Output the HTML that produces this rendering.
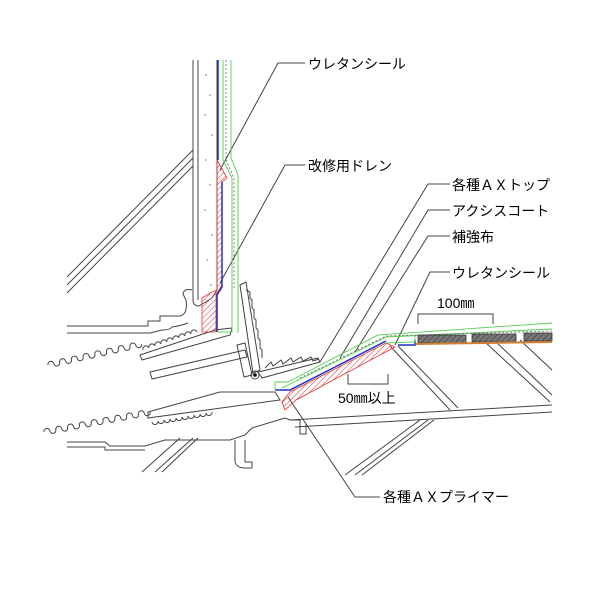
<!DOCTYPE html>
<html><head><meta charset="utf-8"><style>
html,body{margin:0;padding:0;background:#fff}
svg{display:block}
text{font-family:"Liberation Sans","Noto Sans CJK JP",sans-serif;font-size:14px;fill:#000}
</style></head><body>
<svg width="600" height="600" viewBox="0 0 600 600" xmlns="http://www.w3.org/2000/svg">
<defs>
<pattern id="h" width="4" height="4" patternUnits="userSpaceOnUse" patternTransform="rotate(45)">
<line x1="0" y1="0" x2="0" y2="4" stroke="#e03030" stroke-width="1"/></pattern>
<pattern id="g" width="4" height="4" patternUnits="userSpaceOnUse" patternTransform="rotate(45)">
<rect width="4" height="4" fill="#777"/><line x1="0" y1="0" x2="0" y2="4" stroke="#333" stroke-width="1"/></pattern>
</defs>
<g fill="none" stroke="#444" stroke-width="1">
<path d="M193,60 V300 Q193,306 199,306 L212,298"/>
<path d="M198,60 V300"/>
<path d="M217,60 V290 L212,298"/>
<path d="M193,150 L67,277 M193,158 L67,285 M193,166 L67,293"/>
<path d="M67,326 H148 V321 H160 V316 H180 Q188,314 186,300 L183,294 Q184,288 192,290"/>
<path d="M67,333 H150 L162,330 Q170,330 172,327 Q180,326 188,323"/>
<path d="M140,355 L215,330 L232,328 L230,335 L142,360 Z"/>
<path d="M143,350 a3,3 0 0 1 6,-2 a3,3 0 0 1 6,-2 a3,3 0 0 1 6,-2 a3,3 0 0 1 6,-2 a3,3 0 0 1 6,-2 a3,3 0 0 1 6,-2 a3,3 0 0 1 6,-2 a3,3 0 0 1 6,-2 a3,3 0 0 1 6,-2"/>
<path d="M150,372 L245,350 L247,357 L152,379 Z"/>
<path d="M237,345 L245,343 L252,375 L244,377 Z"/>
<path d="M240,285 L246,282 L260,370 L253,373 Z"/>
<path d="M246,290 l4,2 l0,6 l2,2 l0,8 l2,2 l0,8 l2,2 l0,8 l2,2 l0,8 l2,2 l0,8 l2,2 l0,8"/>
<path d="M258,372 L318,358 L320,362 L262,378 Z"/>
<path d="M265,368 l6,-6 l2,4 l8,-6 l2,4 l8,-6 l2,4 l8,-5 l2,4 l8,-4 l2,4 l6,-2"/>
<circle cx="255" cy="375" r="4"/><circle cx="255" cy="375" r="1.5" fill="#000"/>
<g transform="translate(48,365) rotate(-12.6)">
<path d="M0,0 a3,3 0 0 1 6,0 a3,3 0 0 0 6,0 a3,3 0 0 1 6,0 a3,3 0 0 0 6,0 a3,3 0 0 1 6,0 a3,3 0 0 0 6,0 a3,3 0 0 1 6,0 a3,3 0 0 0 6,0 a3,3 0 0 1 6,0 a3,3 0 0 0 6,0 a3,3 0 0 1 6,0 a3,3 0 0 0 6,0 a3,3 0 0 1 6,0 a3,3 0 0 0 6,0 a3,3 0 0 1 6,0 a3,3 0 0 0 6,0"/>
</g>
<g transform="translate(44,432) rotate(-10.6)">
<path d="M0,0 a3,3 0 0 1 6,0 a3,3 0 0 0 6,0 a3,3 0 0 1 6,0 a3,3 0 0 0 6,0 a3,3 0 0 1 6,0 a3,3 0 0 0 6,0 a3,3 0 0 1 6,0 a3,3 0 0 0 6,0 a3,3 0 0 1 6,0 a3,3 0 0 0 6,0 a3,3 0 0 1 6,0 a3,3 0 0 0 6,0 a3,3 0 0 1 6,0 a3,3 0 0 0 6,0 a3,3 0 0 1 6,0 a3,3 0 0 0 6,0 a3,3 0 0 1 6,0 a3,3 0 0 0 6,0"/>
</g>
<path d="M148,412 L220,392 L275,392 L280,400 L148,418 Z"/>
<path d="M152,422 a3,3 0 0 0 6,-1 a3,3 0 0 0 6,-1 a3,3 0 0 0 6,-1 a3,3 0 0 0 6,-1 a3,3 0 0 0 6,-1 a3,3 0 0 0 6,-1 a3,3 0 0 0 6,-1 a3,3 0 0 0 6,-1 a3,3 0 0 0 6,-1 a3,3 0 0 0 6,-1"/>
<path d="M67,442 H105 L110,446 H145 L165,440 H230 L245,435 L252,428 L285,418"/>
<path d="M67,447 H105 V450 H145"/>
<path d="M235,440 V462 Q237,468 245,468 H252 V462 H245 V440"/>
<path d="M285,418 L290,420 H300 V434 H306 V424"/>
<path d="M290,420 L552,405 M295,427 L552,412"/>
<path d="M142,472 L180,438 M155,472 L193,438 M162,472 L198,438"/>
<path d="M345,475 L420,420 M355,475 L428,420 M362,475 L434,420"/>
<path d="M390,346 L450,410 M398,346 L458,408 M485,342 L550,402 M495,341 L552,395 M520,340 L552,370"/>
<path d="M305,63 H278 L220,170"/>
<path d="M305,165 H285 L220,283"/>
<path d="M450,184 H428 L320,362"/>
<path d="M450,210 H428 L340,358"/>
<path d="M450,236 H428 L355,352"/>
<path d="M450,272 H430 L395,345"/>
<path d="M380,497 H355 L288,397"/>
<path d="M418,324 V314 H493 V324"/>
<path d="M348,374 V384 H388 V374"/>
</g>
<g fill="#333">
<circle cx="206" cy="75" r=".6"/><circle cx="210" cy="95" r=".6"/><circle cx="205" cy="115" r=".6"/><circle cx="212" cy="135" r=".6"/><circle cx="206" cy="160" r=".6"/><circle cx="210" cy="185" r=".6"/><circle cx="205" cy="210" r=".6"/><circle cx="212" cy="235" r=".6"/><circle cx="207" cy="260" r=".6"/><circle cx="211" cy="285" r=".6"/>
</g>
<path d="M217,160 L227,178 L222,182 V285 L216,295 V332 H202 V298 L212,292 L217,290 Z" fill="url(#h)" stroke="#e03030" stroke-width="0.8"/>
<path d="M290,392 L386,343 L395,347 L296,400 L285,410 L282,402 Z" fill="url(#h)" stroke="#e03030" stroke-width="0.8"/>
<path d="M218,60 V160 M222,182 V287 L217,295 V332" fill="none" stroke="#2030c0" stroke-width="1.5"/>
<path d="M275,390 H290 L386,341 M398,345 H415 V340" fill="none" stroke="#2030c0" stroke-width="1.5"/>
<g fill="none" stroke="#50d050" stroke-width="0.9">
<path d="M223,60 V160 L232,178 V332 H218"/>
<path d="M231,60 V158 L238,175 V333"/>
<path d="M275,390 V382 H288 L378,335 L552,323"/>
<path d="M282,388 L386,337 L552,329"/>
<path d="M386,343 L415,342 V336"/>
</g>
<path d="M226,60 V160 L234,178 V290" fill="none" stroke="#666" stroke-width="0.8" stroke-dasharray="2,2"/>
<path d="M300,378 L386,336 L552,331" fill="none" stroke="#666" stroke-width="0.8" stroke-dasharray="2,2"/>
<g fill="url(#g)" stroke="#333" stroke-width="0.8">
<rect x="418" y="335" width="48" height="8"/><rect x="472" y="334" width="44" height="8"/><rect x="524" y="333" width="28" height="8"/>
</g>
<path d="M416,344 L552,342" stroke="#d08030" stroke-width="2"/>
<text x="308" y="69">ウレタンシール</text>
<text x="308" y="171">改修用ドレン</text>
<text x="452" y="190">各種ＡＸトップ</text>
<text x="452" y="216">アクシスコート</text>
<text x="452" y="242">補強布</text>
<text x="452" y="278">ウレタンシール</text>
<text x="437" y="308">100㎜</text>
<text x="338" y="403">50㎜以上</text>
<text x="383" y="502">各種ＡＸプライマー</text>
</svg>
</body></html>
